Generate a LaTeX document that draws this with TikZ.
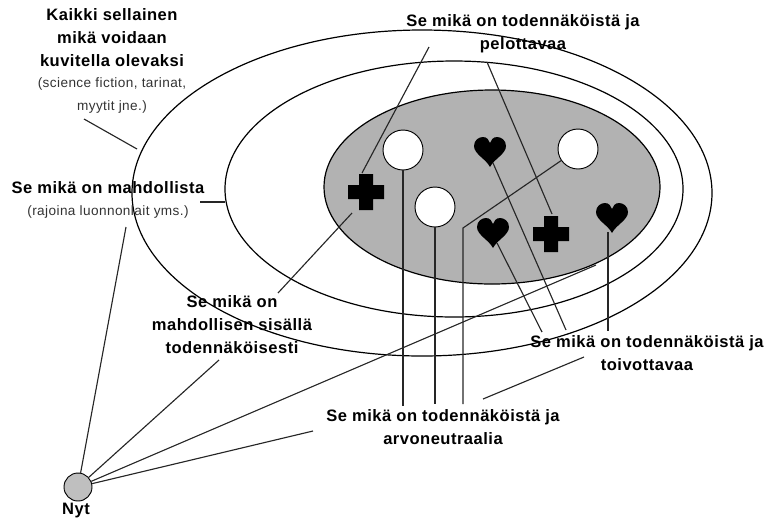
\documentclass[tikz,border=0pt]{standalone}
\usepackage{fontspec}
\setmainfont[LetterSpace=3]{Liberation Sans}
\usetikzlibrary{shapes.geometric}

\tikzset{
  piiri/.style={draw,ellipse,inner sep=0pt,line width=0.9pt},
  pallo/.style={draw,circle,fill=white,inner sep=0pt,minimum size=30pt,line width=0.7pt},
  viiva/.style={line width=0.85pt,color=black!85},
  otsikko/.style={align=center,font=\fontsize{12.4}{17.25}\selectfont\bfseries,inner sep=0pt},
  selite/.style={align=center,font=\fontsize{10.2}{17.25}\selectfont,inner sep=0pt,color=black!80},
  sydan/.pic={\fill (0,15) .. controls (-4,7) and (-16,2) .. (-16,-6)
    .. controls (-16,-12) and (-11,-15) .. (-7,-15)
    .. controls (-3,-15) and (-1,-12) .. (0,-9)
    .. controls (1,-12) and (3,-15) .. (7,-15)
    .. controls (11,-15) and (16,-12) .. (16,-6)
    .. controls (16,2) and (4,7) .. (0,15) -- cycle;},
  risti/.pic={\fill (-7,-18) -- (7,-18) -- (7,-7) -- (18,-7) -- (18,7) -- (7,7)
    -- (7,18) -- (-7,18) -- (-7,7) -- (-18,7) -- (-18,-7) -- (-7,-7) -- cycle;}
}

\begin{document}
\begin{tikzpicture}[x=0.75pt,y=-0.75pt]
  \useasboundingbox (0,0) rectangle (767,519);

  \node[piiri,minimum width=435pt,minimum height=244.5pt] (E-1) at (422,193) {};
  \node[piiri,minimum width=343.5pt,minimum height=192pt] (E-2) at (454,189) {};
  \node[piiri,fill=black!30,minimum width=252pt,minimum height=145.5pt] (E-3) at (492,187) {};

  \node[pallo] (K-1) at (403,150) {};
  \node[pallo] (K-2) at (435,207) {};
  \node[pallo] (K-3) at (578,149) {};
  \node[draw,circle,fill=black!25,inner sep=0pt,minimum size=21pt,line width=0.7pt] (N-1) at (78,487) {};

  \pic at (490,152) {sydan};
  \pic at (493,233) {sydan};
  \pic at (612,218) {sydan};
  \pic at (366,192) {risti};
  \pic at (551,234) {risti};

  \coordinate (H-1) at (493,163);
  \coordinate (H-2) at (497,243);
  \coordinate (H-3) at (608,232);
  \coordinate (R-1) at (362,173);
  \coordinate (R-2) at (552,214);
  \coordinate (R-3) at (352,213);
  \coordinate (T-1) at (429,47);
  \coordinate (T-2) at (487,62);
  \coordinate (A-1) at (84,119);
  \coordinate (B-1) at (137,149);
  \coordinate (A-2) at (200,202);
  \coordinate (B-2) at (225,202);
  \coordinate (M-1) at (278,293);
  \coordinate (L-1) at (403,406);
  \coordinate (L-2) at (435,404);
  \coordinate (L-3) at (463,404);
  \coordinate (P-1) at (463,228);
  \coordinate (O-1) at (542,332);
  \coordinate (O-2) at (566,330);
  \coordinate (O-3) at (608,331);
  \coordinate (S-1) at (483,399);
  \coordinate (S-2) at (584,357);
  \coordinate (N-2) at (126,227);
  \coordinate (N-3) at (219,360);
  \coordinate (N-4) at (596,265);
  \coordinate (N-5) at (313,431);

  \draw[viiva] (A-1) -- (B-1);
  \draw[viiva] (A-2) -- (B-2);
  \draw[viiva] (T-1) -- (R-1);
  \draw[viiva] (T-2) -- (R-2);
  \draw[viiva] (R-3) -- (M-1);
  \draw[viiva] (K-1) -- (L-1);
  \draw[viiva] (K-2) -- (L-2);
  \draw[viiva] (K-3) -- (P-1) -- (L-3);
  \draw[viiva] (H-1) -- (O-2);
  \draw[viiva] (H-2) -- (O-1);
  \draw[viiva] (H-3) -- (O-3);
  \draw[viiva] (S-1) -- (S-2);
  \draw[viiva] (N-1) -- (N-2);
  \draw[viiva] (N-1) -- (N-3);
  \draw[viiva] (N-1) -- (N-4);
  \draw[viiva] (N-1) -- (N-5);

  \node[otsikko] (Y-1) at (112,38) {Kaikki sellainen\\mikä voidaan\\kuvitella olevaksi};
  \node[selite] (Y-2) at (112,95.5) {(science fiction, tarinat,\\myytit jne.)};
  \node[otsikko] (V-1) at (108,188) {Se mikä on mahdollista};
  \node[selite] (V-2) at (108,212) {(rajoina luonnonlait yms.)};
  \node[otsikko] (U-1) at (523,33.5) {Se mikä on todennäköistä ja\\pelottavaa};
  \node[otsikko] (U-2) at (232,325) {Se mikä on\\mahdollisen sisällä\\todennäköisesti};
  \node[otsikko] (U-3) at (647,353.5) {Se mikä on todennäköistä ja\\toivottavaa};
  \node[otsikko] (U-4) at (443,427.5) {Se mikä on todennäköistä ja\\arvoneutraalia};
  \node[otsikko] (U-5) at (76,511) {Nyt};
\end{tikzpicture}
\end{document}
